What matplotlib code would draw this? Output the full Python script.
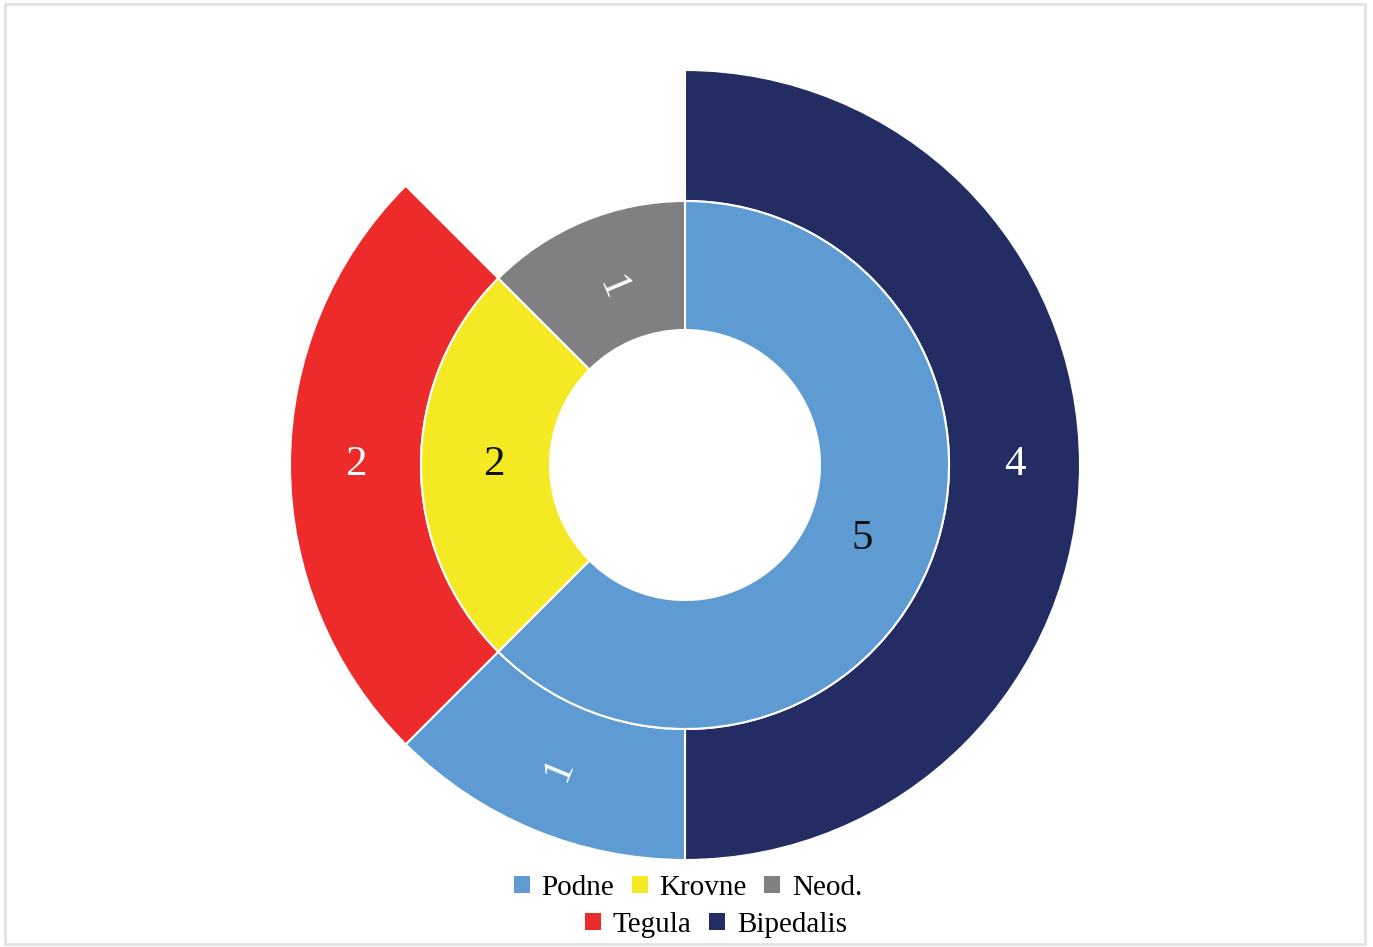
import numpy as np
import matplotlib
matplotlib.use("Agg")
import matplotlib.pyplot as plt
from matplotlib.patches import Rectangle, Patch

# podaci
inner_labels = ['Podne', 'Krovne', 'Neod.']
inner_values = [5, 2, 1]
outer_labels = ['Bipedalis', 'Podne', 'Tegula']
outer_values = [4, 1, 2]

colors = {
    'Podne': '#5E9BD3',
    'Krovne': '#F4E922',
    'Neod.': '#7F8081',
    'Tegula': '#EE2B2B',
    'Bipedalis': '#232D64',
}
inner_text_colors = ['#111111', '#111111', 'white']
outer_text_colors = ['white', 'white', 'white']

plt.rcParams['font.family'] = ['Liberation Serif', 'DejaVu Serif']

W, H = 1373, 947
fig = plt.figure(figsize=(W / 100, H / 100), dpi=100)
fig.patches.append(Rectangle((5 / W, 3 / H), 1360 / W, 940 / H, transform=fig.transFigure,
                             fill=False, edgecolor='#e2e2e2', linewidth=2))

cx, cy, R = 685, 465, 395
ax = fig.add_axes([(cx - R) / W, (H - cy - R) / H, 2 * R / W, 2 * R / H])
ax.set_aspect('equal')
ax.axis('off')

r_mid = 264 / 395
r_in = 135 / 395

# vanjski prsten, praznina za neodredjene
gap = sum(inner_values) - sum(outer_values)
wedges_out, _ = ax.pie(outer_values + [gap], radius=1.0, startangle=90, counterclock=False,
                       colors=[colors[l] for l in outer_labels] + ['none'],
                       wedgeprops=dict(width=1.0 - r_mid, edgecolor='white', linewidth=1.5))
wedges_out[-1].set_edgecolor('none')

wedges_in, _ = ax.pie(inner_values, radius=r_mid, startangle=90, counterclock=False,
                      colors=[colors[l] for l in inner_labels],
                      wedgeprops=dict(width=r_mid - r_in, edgecolor='white', linewidth=1.5))
ax.set_xlim(-1, 1)
ax.set_ylim(-1, 1)


def put_labels(wedges, values, r, tcolors):
    for w, v, c in zip(wedges, values, tcolors):
        ang = (w.theta1 + w.theta2) / 2
        x = r * np.cos(np.radians(ang))
        y = r * np.sin(np.radians(ang))
        rot = 0
        if v == 1:
            rot = ang - 180 if ang > 90 else ang + 180
            rot = (rot + 180) % 360 - 180
        ax.text(x, y, str(v), ha='center', va='center', fontsize=31,
                color=c, rotation=rot)


put_labels(wedges_out[:-1], outer_values, (1.0 + r_mid) / 2, outer_text_colors)
put_labels(wedges_in, inner_values, (r_mid + r_in) / 2 - 0.02, inner_text_colors)

# legenda u dva reda
row1 = [Patch(facecolor=colors[l], label=l) for l in inner_labels]
row2 = [Patch(facecolor=colors[l], label=l) for l in ['Tegula', 'Bipedalis']]
kw = dict(frameon=False, fontsize=21, handlelength=0.55, handleheight=0.55,
          handletextpad=0.4, columnspacing=0.6, borderpad=0, borderaxespad=0)
fig.legend(handles=row1, ncol=3, loc='center', bbox_to_anchor=(688 / W, 1 - 888 / H), **kw)
fig.legend(handles=row2, ncol=2, loc='center', bbox_to_anchor=(716 / W, 1 - 925 / H), **kw)

fig.savefig('out.png', dpi=100, facecolor='white')
